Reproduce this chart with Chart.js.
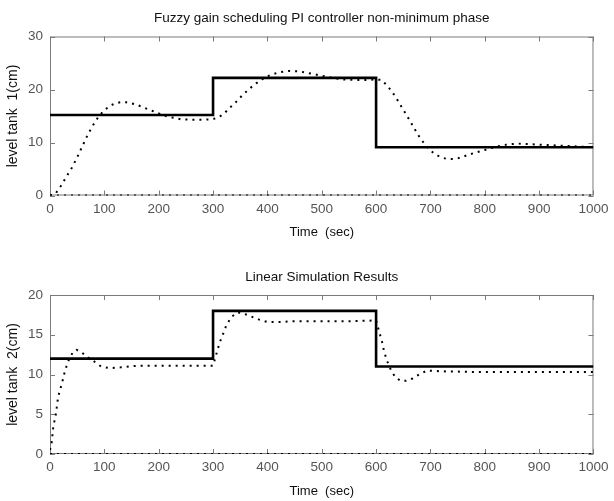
<!DOCTYPE html>
<html>
<head>
<meta charset="utf-8">
<script src="https://cdn.jsdelivr.net/npm/chart.js@4.4.1/dist/chart.umd.min.js"></script>
<style>
  body { margin: 0; background: #fff; }
  canvas { display: block; }
</style>
</head>
<body>
<canvas id="tank1" width="614" height="250"></canvas>
<canvas id="tank2" width="614" height="251"></canvas>
<script>
// time axis + reference (set point) steps
const timeTicks = [0, 100, 200, 300, 400, 500, 600, 700, 800, 900, 1000];
const tank1Ticks = [0, 10, 20, 30];
const tank2Ticks = [0, 5, 10, 15, 20];
const refTime = [0, 300, 300, 600, 600, 1000];
const tank1Ref = [15.2, 15.2, 22.2, 22.2, 9.1, 9.1];
const tank2Ref = [12, 12, 18, 18, 11, 11];
const zeroTime = [0, 1000];
const zeroLevel = [0, 0];

// tank 1 response (dotted)
const tank1Time = [0, 10, 20, 30, 40, 50, 60, 70, 80, 90, 100, 110, 120, 130, 140, 150, 160, 170, 180, 190,
  200, 210, 220, 230, 240, 260, 280, 300, 310, 320, 330, 340, 350, 360, 370, 380, 390, 400, 410, 420,
  440, 460, 480, 500, 520, 540, 560, 580, 600, 610, 620, 630, 640, 650, 660, 670, 680, 690, 700, 710,
  720, 730, 740, 750, 760, 770, 780, 790, 800, 810, 820, 840, 860, 880, 900, 920, 940, 960, 980, 1000];
const tank1Level = [0, 0.3, 1.8, 3.5, 5.2, 7.2, 9.4, 11.6, 13.4, 15.0, 16.1, 16.9, 17.4, 17.6, 17.6, 17.4, 17.1, 16.7, 16.3, 15.9,
  15.5, 15.1, 14.8, 14.6, 14.4, 14.3, 14.3, 14.4, 14.8, 15.4, 16.5, 17.4, 18.5, 19.5, 20.4, 21.2, 21.9, 22.5, 22.9, 23.2,
  23.5, 23.4, 23.0, 22.6, 22.2, 21.9, 21.8, 21.8, 21.9, 21.8, 20.8, 19.5, 17.9, 16.2, 14.5, 12.7, 11.0, 9.6, 8.5, 7.7,
  7.2, 6.9, 6.9, 7.0, 7.3, 7.7, 8.0, 8.3, 8.6, 8.9, 9.2, 9.6, 9.8, 9.7, 9.6, 9.5, 9.4, 9.3, 9.2, 9.1];

// tank 2 response (dotted)
const tank2Time = [0, 3, 6, 11, 15, 22, 27, 33, 42, 49, 58, 69, 82, 94, 109, 130, 160, 200, 250, 300,
  305, 312, 318, 325, 335, 345, 355, 370, 385, 400, 420, 450, 500, 550, 600, 606, 611, 615, 621, 627,
  635, 645, 655, 667, 679, 694, 720, 800, 900, 1000];
const tank2Level = [0.5, 1.4, 3.4, 5.1, 7.2, 8.9, 10.3, 11.6, 12.8, 13.1, 12.8, 12.2, 11.6, 11.0, 10.8, 10.9, 11.1, 11.1, 11.1, 11.1,
  12.3, 14.0, 15.0, 16.3, 17.3, 17.8, 17.7, 17.3, 16.9, 16.6, 16.6, 16.7, 16.7, 16.7, 16.8, 15.3, 14.1, 12.8, 11.6, 10.6,
  9.7, 9.2, 9.2, 9.5, 10.0, 10.5, 10.4, 10.3, 10.3, 10.3];

const pts = (xs, ys) => xs.map((x, i) => ({ x: x, y: ys[i] }));
const FONT = "'Liberation Sans', Arial, sans-serif";

// box around the plot area with inward tick marks on all four sides
const boxTicks = {
  id: 'boxTicks',
  beforeDatasetsDraw(chart) {
    const { ctx, chartArea: a, scales: { x, y } } = chart;
    ctx.save();
    ctx.strokeStyle = '#7a7a7a';
    ctx.lineWidth = 1;
    ctx.strokeRect(a.left + 0.5, a.top + 0.5, a.width - 1, a.height - 1);
    ctx.beginPath();
    x.ticks.forEach(t => {
      const px = Math.round(x.getPixelForValue(t.value)) + 0.5;
      ctx.moveTo(px, a.bottom); ctx.lineTo(px, a.bottom - 5);
      ctx.moveTo(px, a.top); ctx.lineTo(px, a.top + 5);
    });
    y.ticks.forEach(t => {
      const py = Math.round(y.getPixelForValue(t.value)) + 0.5;
      ctx.moveTo(a.left, py); ctx.lineTo(a.left + 5, py);
      ctx.moveTo(a.right, py); ctx.lineTo(a.right - 5, py);
    });
    ctx.stroke();
    ctx.restore();
  }
};

function makeChart(id, cfg) {
  return new Chart(document.getElementById(id), {
    type: 'line',
    data: {
      datasets: [
        { data: pts(zeroTime, zeroLevel), borderColor: '#000', borderWidth: 2, borderDash: [2, 5], pointRadius: 0 },
        { data: pts(cfg.time, cfg.level), borderColor: '#000', borderWidth: 2, borderDash: [2, 5], pointRadius: 0 },
        { data: pts(refTime, cfg.ref), borderColor: '#000', borderWidth: 2.6, pointRadius: 0 }
      ]
    },
    options: {
      responsive: false,
      animation: false,
      layout: { padding: { left: 0, right: 14, top: 0, bottom: 0 } },
      plugins: {
        legend: { display: false },
        tooltip: { enabled: false },
        title: {
          display: true,
          fullSize: false,
          text: cfg.title,
          color: '#111',
          font: { family: FONT, size: 13.5, weight: 'normal' },
          padding: cfg.titlePad
        }
      },
      scales: {
        x: {
          type: 'linear',
          min: 0, max: 1000,
          afterBuildTicks: s => { s.ticks = timeTicks.map(v => ({ value: v })); },
          afterFit: s => { s.height = cfg.xHeight; },
          grid: { display: false, drawTicks: false },
          border: { display: false },
          ticks: {
            color: '#555', padding: 5.5, maxRotation: 0, font: { family: FONT, size: 13.5 },
            callback: v => String(v)
          },
          title: {
            display: true, text: 'Time  (sec)', color: '#111',
            font: { family: FONT, size: 13 }, padding: { top: 0, bottom: cfg.xTitlePad }
          }
        },
        y: {
          min: cfg.ticks[0], max: cfg.ticks[cfg.ticks.length - 1],
          afterBuildTicks: s => { s.ticks = cfg.ticks.map(v => ({ value: v })); },
          afterFit: s => { s.width = 50; },
          grid: { display: false, drawTicks: false },
          border: { display: false },
          ticks: { color: '#555', padding: 7, font: { family: FONT, size: 13.5 }, callback: v => String(v) },
          title: {
            display: true, text: cfg.yLabel, color: '#111',
            font: { family: FONT, size: 14 }, padding: { top: 4.6, bottom: 0 }
          }
        }
      }
    },
    plugins: [boxTicks]
  });
}

makeChart('tank1', {
  title: 'Fuzzy gain scheduling PI controller non-minimum phase',
  yLabel: 'level tank  1(cm)',
  time: tank1Time, level: tank1Level, ref: tank1Ref, ticks: tank1Ticks,
  titlePad: { top: 10, bottom: 10.3 }, xHeight: 54.5, xTitlePad: 10.2
});

makeChart('tank2', {
  title: 'Linear Simulation Results',
  yLabel: 'level tank  2(cm)',
  time: tank2Time, level: tank2Level, ref: tank2Ref, ticks: tank2Ticks,
  titlePad: { top: 18.9, bottom: 9.9 }, xHeight: 47, xTitlePad: 2.2
});
</script>
</body>
</html>
